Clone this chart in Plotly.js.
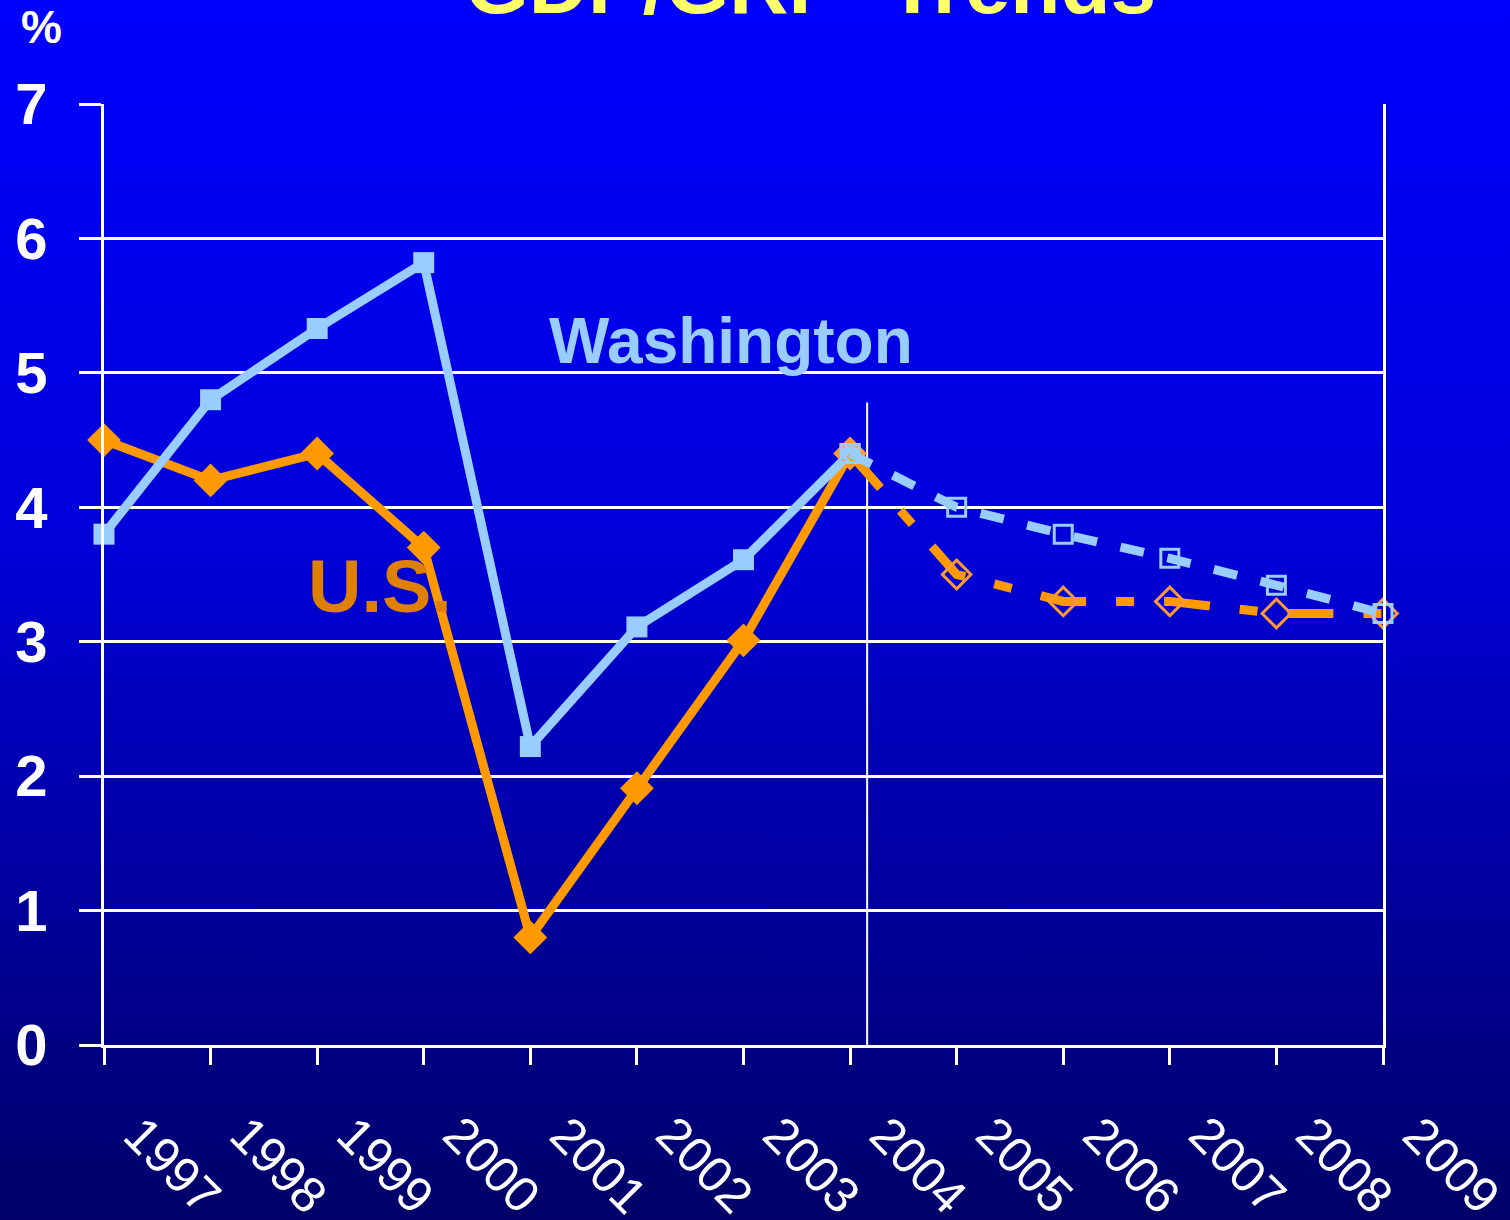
<!DOCTYPE html>
<html>
<head>
<meta charset="utf-8">
<script src="https://cdn.plot.ly/plotly-3.0.1.min.js"></script>
<style>
  html, body { margin: 0; padding: 0; }
  #chart {
    width: 1510px; height: 1220px;
    background: linear-gradient(to bottom, #0000ff 0%, #0000d8 45%, #000090 80%, #000068 100%);
  }
</style>
</head>
<body>
<div id="chart"></div>
<script>
// ---- data ----
const years = [1997, 1998, 1999, 2000, 2001, 2002, 2003, 2004, 2005, 2006, 2007, 2008, 2009];
const yearLabels = ["1997", "1998", "1999", "2000", "2001", "2002", "2003", "2004", "2005", "2006", "2007", "2008", "2009"];

const actualYears = [1997, 1998, 1999, 2000, 2001, 2002, 2003, 2004];
const washingtonActual = [3.8, 4.8, 5.33, 5.82, 2.22, 3.11, 3.61, 4.4];
const usActual = [4.5, 4.2, 4.4, 3.7, 0.8, 1.91, 3.01, 4.4];

const forecastYears = [2004, 2005, 2006, 2007, 2008, 2009];
const washingtonForecast = [4.4, 4.0, 3.8, 3.62, 3.42, 3.21];
const usForecast = [4.4, 3.5, 3.3, 3.3, 3.21, 3.21];

const forecastStart = 2004.16;   // divider between actual and forecast
const dividerTop = 4.78;

// ---- styling ----
const waColor = '#99ccff';
const usColor = '#ff9900';
const fontFam = '"Liberation Sans", Arial, sans-serif';

const traces = [
  {
    x: actualYears, y: usActual, type: 'scatter', mode: 'lines+markers',
    line: { color: usColor, width: 9 },
    marker: { symbol: 'diamond', size: 26, color: usColor },
    cliponaxis: false, hoverinfo: 'x+y', name: 'U.S.'
  },
  {
    x: actualYears, y: washingtonActual, type: 'scatter', mode: 'lines+markers',
    line: { color: waColor, width: 9 },
    marker: { symbol: 'square', size: 21, color: waColor },
    cliponaxis: false, hoverinfo: 'x+y', name: 'Washington'
  },
  {
    x: forecastYears, y: usForecast, type: 'scatter', mode: 'lines+markers',
    line: { color: usColor, width: 9, dash: '46px,30px,18px,30px' },
    marker: { symbol: 'diamond-open', size: 22, color: '#ff9933', line: { width: 3, color: '#ff9933' } },
    cliponaxis: false, hoverinfo: 'x+y', name: 'U.S. forecast'
  },
  {
    x: forecastYears, y: washingtonForecast, type: 'scatter', mode: 'lines+markers',
    line: { color: waColor, width: 9, dash: '24px,24px' },
    marker: { symbol: 'square-open', size: 18, color: waColor, line: { width: 3, color: waColor } },
    cliponaxis: false, hoverinfo: 'x+y', name: 'Washington forecast'
  }
];

// x tick labels drawn as rotated text under each tick
const yearAnnotations = years.map((yr, i) => ({
  text: yearLabels[i], xref: 'x', yref: 'paper', x: yr, y: -0.1275,
  xanchor: 'center', yanchor: 'middle', xshift: 68, textangle: 45, showarrow: false,
  font: { family: fontFam, size: 50, color: '#ffffff' }
}));

const layout = {
  width: 1510, height: 1220,
  margin: { l: 104, r: 127, t: 104, b: 175 },
  paper_bgcolor: 'rgba(0,0,0,0)',
  plot_bgcolor: 'rgba(0,0,0,0)',
  showlegend: false,
  font: { family: fontFam, color: '#ffffff' },
  xaxis: {
    range: [1997, 2009],
    tickmode: 'array', tickvals: years, ticktext: yearLabels,
    showticklabels: false,
    ticks: 'outside', ticklen: 17, tickwidth: 3, tickcolor: '#ffffff',
    showline: true, linecolor: '#ffffff', linewidth: 3,
    showgrid: false, zeroline: false, fixedrange: true
  },
  yaxis: {
    range: [0, 7], dtick: 1, tick0: 0,
    tickfont: { family: fontFam, size: 58, color: '#ffffff', weight: 'bold' },
    ticks: 'outside', ticklen: 22, tickwidth: 3, tickcolor: '#ffffff',
    ticklabelstandoff: 20,
    showline: true, linecolor: '#ffffff', linewidth: 3, mirror: true,
    showgrid: true, gridcolor: '#ffffff', gridwidth: 3,
    zeroline: false, fixedrange: true
  },
  shapes: [
    { type: 'line', xref: 'x', yref: 'y', x0: forecastStart, x1: forecastStart, y0: 0, y1: dividerTop,
      line: { color: '#ffffff', width: 2 }, layer: 'below' }
  ],
  annotations: [
    { text: 'GDP/GRP  Trends', xref: 'paper', yref: 'paper', x: 0.552, y: 1.1275,
      xanchor: 'center', yanchor: 'middle', showarrow: false,
      font: { family: fontFam, size: 82, color: '#ffff66', weight: 'bold' } },
    { text: '%', xref: 'paper', yref: 'paper', x: -0.0485, y: 1.082,
      xanchor: 'center', yanchor: 'middle', showarrow: false,
      font: { family: fontFam, size: 46, color: '#ffffff', weight: 'bold' } },
    { text: 'Washington', xref: 'paper', yref: 'paper', x: 0.490, y: 0.748,
      xanchor: 'center', yanchor: 'middle', showarrow: false,
      font: { family: fontFam, size: 64, color: waColor, weight: 'bold' } },
    { text: 'U.S.', xref: 'paper', yref: 'paper', x: 0.216, y: 0.487,
      xanchor: 'center', yanchor: 'middle', showarrow: false,
      font: { family: fontFam, size: 74, color: '#e08000', weight: 'bold' } }
  ].concat(yearAnnotations)
};

Plotly.newPlot('chart', traces, layout, { displayModeBar: false, staticPlot: true });
</script>
</body>
</html>
